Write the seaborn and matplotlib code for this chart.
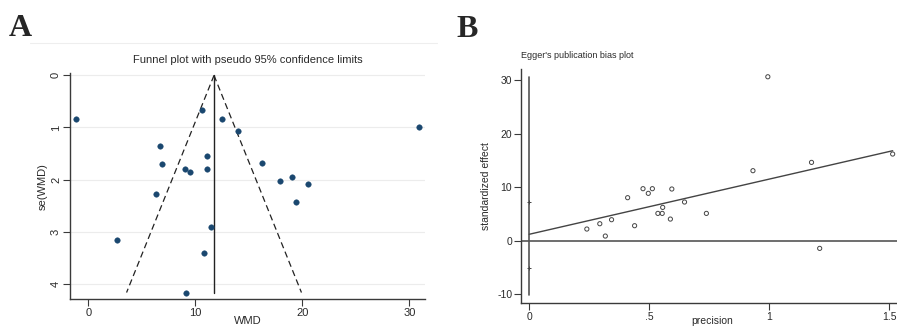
import matplotlib
matplotlib.use("Agg")
import matplotlib.pyplot as plt
import matplotlib.lines as mlines
import numpy as np
import pandas as pd
import seaborn as sns

# ---- Funnel plot data: weighted mean difference and its standard error per study
wmd = [-1.15, 2.7, 6.35, 6.73, 6.85, 9.07, 9.47, 9.13, 10.65, 10.78, 11.09,
       11.09, 11.5, 12.49, 13.99, 16.2, 17.88, 19.03, 19.41, 20.5, 30.87]
se_wmd = [0.83, 3.16, 2.28, 1.35, 1.70, 1.80, 1.86, 4.17, 0.66, 3.41, 1.54,
          1.79, 2.91, 0.84, 1.07, 1.68, 2.02, 1.95, 2.43, 2.09, 1.00]
pooled_wmd = 11.75
funnel_se_max = 4.17

# ---- Egger plot data: precision (1/se) vs standardized effect (wmd/se)
precision = [0.240, 0.294, 0.317, 0.343, 0.410, 0.439, 0.474, 0.496, 0.513,
             0.536, 0.554, 0.556, 0.588, 0.594, 0.647, 0.738, 0.932, 0.994,
             1.176, 1.210, 1.514]
std_effect = [2.18, 3.17, 0.87, 3.92, 8.03, 2.80, 9.71, 8.84, 9.71, 5.10,
              5.10, 6.22, 4.04, 9.65, 7.22, 5.10, 13.07, 30.6, 14.62, -1.43,
              16.18]
egger_intercept = 1.2
egger_slope = 10.3
intercept_ci = [-5.0, 7.3]

funnel_yticks = [0, 1, 2, 3, 4]
funnel_xticks = [0, 10, 20, 30]
egger_yticks = [-10, 0, 10, 20, 30]
egger_xticks = [0, 0.5, 1, 1.5]
egger_xticklabels = ["0", ".5", "1", "1.5"]

sns.set_theme(style="white")
plt.rcParams["font.family"] = ["Liberation Sans", "DejaVu Sans"]
plt.rcParams["axes.unicode_minus"] = False

W, H = 897, 326
fig = plt.figure(figsize=(W / 100, H / 100), dpi=100)


def px_axes(x0, y0, x1, y1):
    return fig.add_axes([x0 / W, 1 - y1 / H, (x1 - x0) / W, (y1 - y0) / H])


axis_col = "#3a3a3a"
text_col = "#2a2a2a"

# faint graph-region rule under the panel letter A
fig.add_artist(mlines.Line2D([30 / W, 437 / W], [1 - 43 / H, 1 - 43 / H],
                             color="#eeeeee", lw=0.8))

# ================= Panel A: funnel plot =================
A_top, A_bot = 73, 299.3
axA = px_axes(70, A_top, 425, A_bot)
axA.set_xlim(-1.71, 31.47)
axA.set_ylim(4.30, -0.046)

for t in funnel_yticks:
    axA.axhline(t, color="#ececec", lw=0.8, zorder=0)

se_line = np.array([0, funnel_se_max])
axA.plot(pooled_wmd - 1.96 * se_line, se_line, ls=(0, (5, 3)), color="#222222", lw=0.9)
axA.plot(pooled_wmd + 1.96 * se_line, se_line, ls=(0, (5, 3)), color="#222222", lw=0.9)
axA.plot([pooled_wmd, pooled_wmd], se_line, color="#222222", lw=1.0)

funnel_df = pd.DataFrame({"WMD": wmd, "se": se_wmd})
sns.scatterplot(data=funnel_df, x="WMD", y="se", ax=axA, color="#1a476f",
                s=16, edgecolor="#1a476f", linewidth=0.3, zorder=3)

axA.set_xticks(funnel_xticks)
axA.set_yticks(funnel_yticks)
axA.tick_params(axis="both", direction="out", length=5, width=0.8,
                color=axis_col, labelsize=8, labelcolor=text_col, pad=1.5,
                bottom=True, left=True)
for lab in axA.get_yticklabels():
    lab.set_rotation(90)
    lab.set_va("center")
for s in ["top", "right"]:
    axA.spines[s].set_visible(False)
for s in ["left", "bottom"]:
    axA.spines[s].set_color(axis_col)
    axA.spines[s].set_linewidth(1.0)
axA.set_xlabel("WMD", fontsize=8, color=text_col, va="center")
axA.xaxis.set_label_coords(0.5, (A_bot - 320.5) / (A_bot - A_top))
axA.set_ylabel("se(WMD)", fontsize=8, color=text_col, va="center")
axA.yaxis.set_label_coords((43 - 70) / 355, 0.5)
axA.set_title("Funnel plot with pseudo 95% confidence limits", fontsize=8,
              color=text_col, pad=7)

# ================= Panel B: Egger's plot =================
B_top, B_bot = 69, 302.7
axB = px_axes(521.3, B_top, 903.7, B_bot)
axB.set_xlim(-0.033, 1.56)
axB.set_ylim(-11.57, 32.05)

axB.axhline(0, color="#555555", lw=1.2, zorder=1)
axB.plot([0, 0], [-10.2, 30.6], color="#555555", lw=1.2, zorder=1)
axB.plot([0, 0], intercept_ci, ls="none", marker="+", ms=3, mew=0.7,
         color="#444444", zorder=2)

xfit = np.array([0, max(precision)])
axB.plot(xfit, egger_intercept + egger_slope * xfit, color="#444444", lw=1.0, zorder=2)

egger_df = pd.DataFrame({"precision": precision, "effect": std_effect})
sns.scatterplot(data=egger_df, x="precision", y="effect", ax=axB,
                facecolor="none", edgecolor="#444444", s=9, linewidth=0.7, zorder=3)

axB.set_xticks(egger_xticks)
axB.set_xticklabels(egger_xticklabels)
axB.set_yticks(egger_yticks)
axB.tick_params(axis="both", direction="out", length=5, width=0.8,
                color=axis_col, labelsize=7.5, labelcolor=text_col, pad=1.5,
                bottom=True, left=True)
for s in ["top", "right"]:
    axB.spines[s].set_visible(False)
for s in ["left", "bottom"]:
    axB.spines[s].set_color(axis_col)
    axB.spines[s].set_linewidth(1.0)
axB.set_xlabel("precision", fontsize=7.5, color=text_col, va="center")
axB.xaxis.set_label_coords(0.5, (B_bot - 320.5) / (B_bot - B_top))
axB.set_ylabel("standardized effect", fontsize=7.5, color=text_col, va="center")
axB.yaxis.set_label_coords((486 - 521.3) / (903.7 - 521.3), 0.5)

fig.text(520.7 / W, 1 - 56 / H, "Egger's publication bias plot", fontsize=6.5,
         color=text_col, ha="left", va="center")

# panel letters
fig.text(9 / W, 1 - 36 / H, "A", fontsize=23, fontweight="bold",
         family=["Liberation Serif", "DejaVu Serif"], ha="left", va="baseline")
fig.text(456 / W, 1 - 36.7 / H, "B", fontsize=23, fontweight="bold",
         family=["Liberation Serif", "DejaVu Serif"], ha="left", va="baseline")

fig.savefig("out.png", dpi=100)
